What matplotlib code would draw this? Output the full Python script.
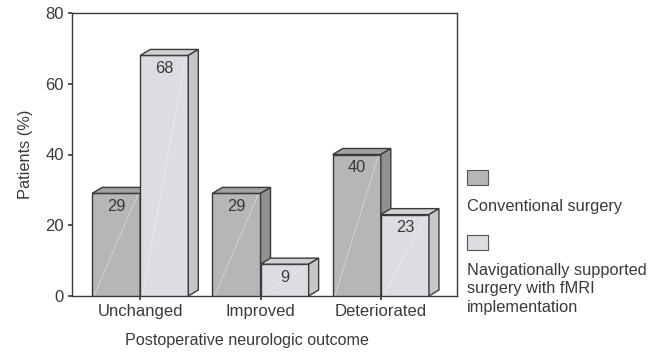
import matplotlib
matplotlib.use('Agg')
import matplotlib.pyplot as plt
from matplotlib.patches import Polygon, Rectangle

plt.rcParams['font.family'] = ['Liberation Sans', 'DejaVu Sans']

categories = ['Unchanged', 'Improved', 'Deteriorated']
conventional = [29, 29, 40]
navigated = [68, 9, 23]
series_names = ['Conventional surgery',
                'Navigationally supported\nsurgery with fMRI\nimplementation']

TEXT = '#3a3a3a'
EDGE = '#3a3a3a'
# (front, top, side)
DARK = ('#b4b6b8', '#9fa1a3', '#8f9193')
LIGHT = ('#dcdde0', '#cfd0d2', '#c6c7c9')

fig = plt.figure(figsize=(6.59, 3.52), dpi=100)
ax = fig.add_axes([72 / 659, 1 - 296 / 352, (457 - 72) / 659, (296 - 13) / 352])

width = 0.4
dx = 0.083   # depth offset in x (data units)
dy = 1.7     # depth offset in y (data units)


def bar3d(x, h, cols):
    left, right = x - width / 2, x + width / 2
    ax.add_patch(Rectangle((left, 0), width, h, facecolor=cols[0],
                           edgecolor=EDGE, lw=1.0, zorder=3))
    ax.plot([left + 0.02, right - 0.02], [0.3, h - 0.3], color='white',
            lw=0.6, alpha=0.45, zorder=3.5)
    ax.add_patch(Polygon([(left, h), (left + dx, h + dy), (right + dx, h + dy), (right, h)],
                         closed=True, facecolor=cols[1], edgecolor=EDGE, lw=1.0, zorder=3))
    ax.add_patch(Polygon([(right, 0), (right + dx, dy), (right + dx, h + dy), (right, h)],
                         closed=True, facecolor=cols[2], edgecolor=EDGE, lw=1.0, zorder=3))
    ax.annotate(str(h), (x, h), xytext=(0, -4), textcoords='offset points',
                ha='center', va='top', fontsize=11.8, color=TEXT, zorder=5)


for i in range(len(categories)):
    bar3d(i - width / 2, conventional[i], DARK)
    bar3d(i + width / 2, navigated[i], LIGHT)

ax.set_xlim(-0.567, 2.633)
ax.set_ylim(0, 80)
ax.set_yticks([0, 20, 40, 60, 80])
ax.set_xticks(range(len(categories)))
ax.set_xticklabels(categories)
ax.tick_params(axis='both', direction='out', length=3, width=1.2, colors=EDGE,
               labelcolor=TEXT, labelsize=12, pad=3)
for s in ax.spines.values():
    s.set_color(EDGE)
    s.set_linewidth(1.0)
ax.set_ylabel('Patients (%)', fontsize=11.8, color=TEXT, labelpad=9)
ax.set_xlabel('Postoperative neurologic outcome', fontsize=11.6, color=TEXT, labelpad=8)
ax.xaxis.set_label_coords((247 - 72) / 385, -0.12)
ax.xaxis.label.set_va('center')
ax.xaxis.set_label_coords((247 - 72) / 385, -(340 - 296) / 283)

# legend drawn by hand at the right
W, H = 659, 352
for (y0, cols), name, ty in zip([(170, DARK), (235, LIGHT)], series_names, [207, 289]):
    fig.add_artist(Rectangle((467 / W, 1 - (y0 + 15) / H), 21 / W, 15 / H,
                             facecolor=cols[0], edgecolor='#555555', lw=0.8,
                             transform=fig.transFigure))
    fig.text(467 / W, 1 - ty / H, name, ha='left', va='center', fontsize=11.8,
             color=TEXT, linespacing=1.28)

fig.savefig('out.png', dpi=100)
